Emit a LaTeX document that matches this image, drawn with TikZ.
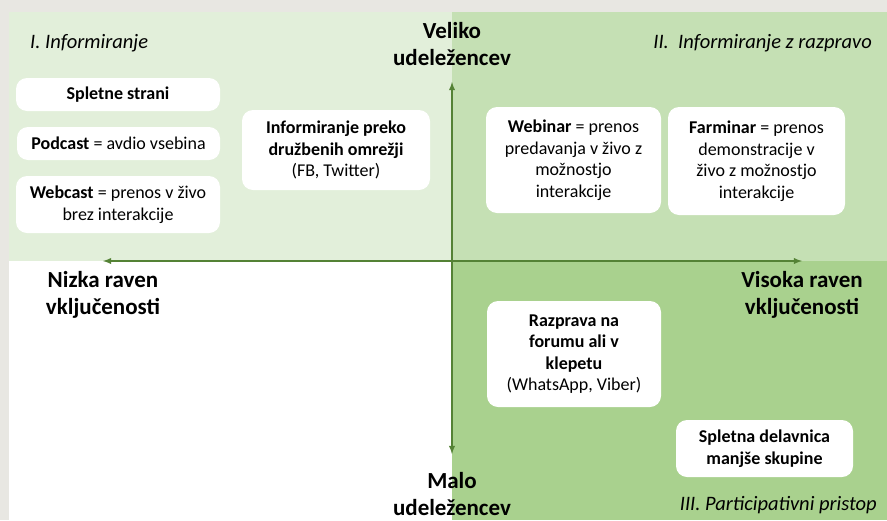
\documentclass[tikz,border=0pt]{standalone}
\usepackage{fontspec}
\setmainfont{Carlito}
\usetikzlibrary{positioning}

\definecolor{pagegray}{HTML}{E8E7E2}
\definecolor{quadone}{HTML}{E2EFDA}
\definecolor{quadtwo}{HTML}{C5E0B4}
\definecolor{quadthree}{HTML}{A9D18E}
\definecolor{axisgreen}{HTML}{548235}

\begin{document}
\begin{tikzpicture}[> = latex, x = 1pt, y = -1pt,
	itembox/.style = {fill = white, rounded corners = 11pt, align = center,
		font = \fontsize{18}{21.5}\selectfont, inner sep = 0pt},
	axislabel/.style = {align = center, inner sep = 0pt,
		font = \fontsize{23}{27}\selectfont\bfseries},
	quadlabel/.style = {font = \fontsize{20.5}{22}\selectfont\itshape, inner sep = 0pt}]

% Definitions

\def\Cx{452}
\def\Cy{261}

\useasboundingbox (0, 0) rectangle (887, 520);

% Quadrants

\fill [pagegray] (0, 0) rectangle (887, 520);
\fill [quadone] (9, 12) rectangle (\Cx, \Cy);
\fill [quadtwo] (\Cx, 12) rectangle (887, \Cy);
\fill [white] (9, \Cy) rectangle (\Cx, 520);
\fill [quadthree] (\Cx, \Cy) rectangle (887, 520);

% Axes

\coordinate (west) at (103, \Cy);
\coordinate (east) at (802, \Cy);
\coordinate (north) at (\Cx, 82);
\coordinate (south) at (\Cx, 454);

\draw [<->, axisgreen, line width = 1.8pt] (west) -- (east);
\draw [<->, axisgreen, line width = 1.8pt] (north) -- (south);

% Axis labels

\node [axislabel, above = 16pt of north] (many) {Veliko\\udeležencev};
\node [axislabel, below = 18pt of south] (few) {Malo\\udeležencev};
\node [axislabel, below = 10pt of west] (low) {Nizka raven\\vključenosti};
\node [axislabel, below = 10pt of east] (high) {Visoka raven\\vključenosti};

% Quadrant labels

\node [quadlabel, anchor = west] (q1) at (30, 43) {I. Informiranje};
\node [quadlabel, anchor = east] (q2) at (872, 43) {II.\ \ Informiranje z razpravo};
\node [quadlabel, anchor = east] (q3) at (877, 505) {III. Participativni pristop};

% Quadrant I

\node [itembox, minimum width = 204pt, minimum height = 33pt] (web) at (118, 94.5)
	{\textbf{Spletne strani}};
\node [itembox, minimum width = 203pt, minimum height = 33pt] (podcast) at (118.5, 143.5)
	{\textbf{Podcast} = avdio vsebina};
\node [itembox, minimum width = 204pt, minimum height = 57pt] (webcast) at (118, 204.5)
	{\textbf{Webcast} = prenos v živo\\brez interakcije};
\node [itembox, minimum width = 188pt, minimum height = 80pt] (social) at (336, 150)
	{\textbf{Informiranje preko}\\\textbf{družbenih omrežji}\\(FB, Twitter)};

% Quadrant II

\node [itembox, minimum width = 175pt, minimum height = 106pt] (webinar) at (573.5, 160)
	{\textbf{Webinar} = prenos\\predavanja v živo z\\možnostjo\\interakcije};
\node [itembox, minimum width = 177pt, minimum height = 108pt] (farminar) at (756.5, 161)
	{\textbf{Farminar} = prenos\\demonstracije v\\živo z možnostjo\\interakcije};

% Quadrant III

\node [itembox, minimum width = 174pt, minimum height = 106pt] (forum) at (574, 354)
	{\textbf{Razprava na}\\\textbf{forumu ali v}\\\textbf{klepetu}\\(WhatsApp, Viber)};
\node [itembox, minimum width = 177pt, minimum height = 57pt] (workshop) at (764.5, 448.5)
	{\textbf{Spletna delavnica}\\\textbf{manjše skupine}};

\end{tikzpicture}
\end{document}
